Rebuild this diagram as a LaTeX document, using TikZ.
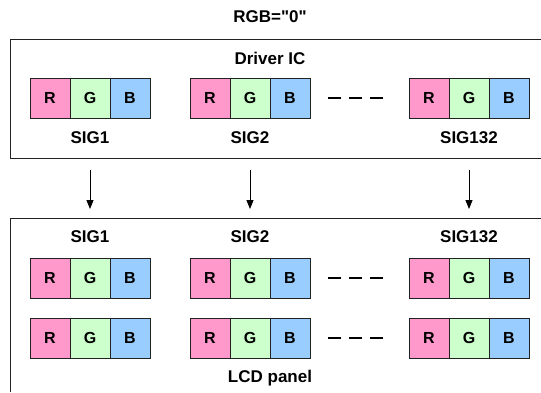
\documentclass[tikz,border=0pt]{standalone}
\usepackage{fontspec}
\setmainfont{Liberation Sans}[Ligatures=TeXOff]
\usetikzlibrary{arrows.meta}
\definecolor{cR}{HTML}{FF99CC}
\definecolor{cG}{HTML}{CCFFCC}
\definecolor{cB}{HTML}{99CCFF}
\definecolor{frame}{HTML}{222222}
\begin{document}
\begin{tikzpicture}[x=1pt,y=-1pt,
  cell/.style={draw=frame,line width=1pt,minimum width=40pt,minimum height=40pt,inner sep=0pt,font=\fontsize{16}{18}\selectfont\bfseries},
  lbl/.style={font=\fontsize{17}{19}\selectfont\bfseries,inner sep=0pt},
  boxline/.style={draw=frame,line width=1pt},
  dots/.style={line width=2.6pt,dash pattern=on 13pt off 8pt},
  arr/.style={line width=0.8pt,-{Triangle[length=9pt,width=7pt]}}]
\useasboundingbox (0,0) rectangle (541,392);
% boxes
\draw[boxline] (541,39) -- (10,39) -- (10,158) -- (541,158);
\draw[boxline] (541,218) -- (10,218) -- (10,392);
% labels
\node[lbl] (top) at (270,17) {RGB="0"};
\node[lbl] (drv) at (270,58) {Driver IC};
\node[lbl] (lcd) at (270,378) {LCD panel};
% cells
\foreach \nm/\yy in {d/98,a/278,b/338}{
  \foreach \g/\xx in {1/30,2/190,3/409}{
    \node[cell,fill=cR] (\nm\g r) at (\xx+20,\yy) {R};
    \node[cell,fill=cG] (\nm\g g) at (\xx+60,\yy) {G};
    \node[cell,fill=cB] (\nm\g b) at (\xx+100,\yy) {B};
  }
  \coordinate (\nm dl) at (328,\yy);
  \coordinate (\nm dr) at (383,\yy);
  \draw[dots] (\nm dl) -- (\nm dr);
}
% SIG labels
\node[lbl] (s1) at (90,138) {SIG1};
\node[lbl] (s2) at (250,138) {SIG2};
\node[lbl] (s3) at (469,138) {SIG132};
\node[lbl] (t1) at (90,237) {SIG1};
\node[lbl] (t2) at (250,237) {SIG2};
\node[lbl] (t3) at (469,237) {SIG132};
% arrows
\foreach \i/\xx in {1/90,2/250,3/469}{
  \coordinate (p\i) at (\xx,170);
  \coordinate (q\i) at (\xx,209);
  \draw[arr] (p\i) -- (q\i);
}
\end{tikzpicture}
\end{document}
